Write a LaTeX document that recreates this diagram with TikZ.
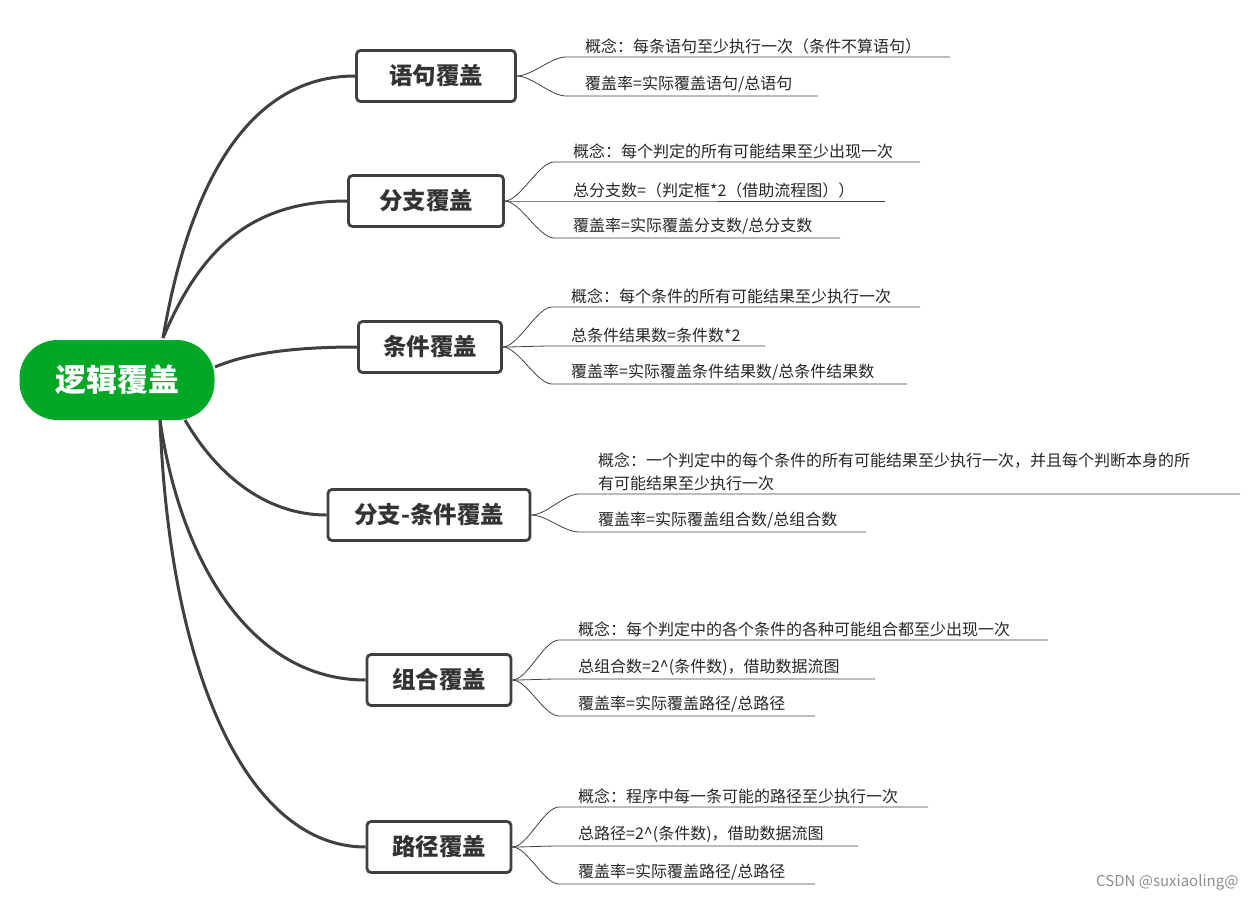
\documentclass[tikz,border=0pt]{standalone}
\usepackage{fontspec}
\setmainfont{Noto Sans CJK SC}
\usetikzlibrary{calc}
\begin{document}
\begin{tikzpicture}[x=1pt,y=-1pt,
  br/.style={draw=black!75,line width=2.8pt,rounded corners=4pt,fill=white,font=\fontsize{23.5}{26}\selectfont\bfseries,text=black!80,minimum height=51pt,inner xsep=0pt},
  ln/.style={draw=black!75,line width=3pt},
  tw/.style={draw=black!75,line width=0.8pt},
  lf/.style={anchor=south west,font=\fontsize{16}{23}\selectfont,text=black!85,inner sep=1pt,align=left}]
\useasboundingbox (0,0) rectangle (1255,902);
\node[fill=green!60!black!85!cyan,rounded corners=38pt,minimum width=195pt,minimum height=80pt,text=white,font=\fontsize{31}{34}\selectfont\bfseries] (root) at (117,380) {逻辑覆盖};
\node[br,minimum width=159pt] (b1) at (436,76) {语句覆盖};
\node[br,minimum width=155pt] (b2) at (426,201) {分支覆盖};
\node[br,minimum width=143pt] (b3) at (430,347) {条件覆盖};
\node[br,minimum width=202pt] (b4) at (429,515) {分支-条件覆盖};
\node[br,minimum width=144pt] (b5) at (439,680) {组合覆盖};
\node[br,minimum width=144pt] (b6) at (439,847) {路径覆盖};
\coordinate (r1) at (163,338); \coordinate (r2) at (215,367);
\coordinate (r3) at (185,420); \coordinate (r4) at (160,420);
\draw[ln] (r1) .. controls (190,180) and (250,76) .. (b1.west);
\draw[ln] (r1) .. controls (200,250) and (250,201) .. (b2.west);
\draw[ln] (r2) .. controls (250,352) and (300,347) .. (b3.west);
\draw[ln] (r3) .. controls (220,480) and (270,515) .. (b4.west);
\draw[ln] (r4) .. controls (180,560) and (250,680) .. (b5.west);
\draw[ln] (r4) .. controls (170,680) and (250,847) .. (b6.west);
\newcommand{\leaf}[6]{%
 \coordinate (#1s) at (#3,#4); \coordinate (#1e) at (#5,#4);
 \draw[tw] (#2.east) .. controls ($(#2.east)+(15,0)$) and ($(#1s)+(-15,0)$) .. (#1s) -- (#1e);
 \node[lf] (#1t) at ($(#1s)+(18,-2)$) {#6};}
\leaf{l11}{b1}{566}{57}{950}{概念：每条语句至少执行一次（条件不算语句）}
\leaf{l12}{b1}{566}{96}{818}{覆盖率=实际覆盖语句/总语句}
\leaf{l21}{b2}{554}{162}{920}{概念：每个判定的所有可能结果至少出现一次}
\leaf{l22}{b2}{554}{201}{885}{总分支数=（判定框*2（借助流程图））}
\leaf{l23}{b2}{554}{238}{840}{覆盖率=实际覆盖分支数/总分支数}
\leaf{l31}{b3}{552}{307}{920}{概念：每个条件的所有可能结果至少执行一次}
\leaf{l32}{b3}{552}{346}{765}{总条件结果数=条件数*2}
\leaf{l33}{b3}{552}{384}{907}{覆盖率=实际覆盖条件结果数/总条件结果数}
\leaf{l41}{b4}{579}{494}{1240}{概念：一个判定中的每个条件的所有可能结果至少执行一次，并且每个判断本身的所\\有可能结果至少执行一次}
\leaf{l42}{b4}{579}{532}{866}{覆盖率=实际覆盖组合数/总组合数}
\leaf{l51}{b5}{559}{640}{1048}{概念：每个判定中的各个条件的各种可能组合都至少出现一次}
\leaf{l52}{b5}{559}{679}{875}{总组合数=2\^{}(条件数)，借助数据流图}
\leaf{l53}{b5}{559}{716}{815}{覆盖率=实际覆盖路径/总路径}
\leaf{l61}{b6}{559}{807}{928}{概念：程序中每一条可能的路径至少执行一次}
\leaf{l62}{b6}{559}{846}{858}{总路径=2\^{}(条件数)，借助数据流图}
\leaf{l63}{b6}{559}{884}{815}{覆盖率=实际覆盖路径/总路径}
\node[anchor=east,font=\fontsize{15}{17}\selectfont,text=black!45] (wm) at (1242,882) {CSDN @suxiaoling@};
\end{tikzpicture}
\end{document}
